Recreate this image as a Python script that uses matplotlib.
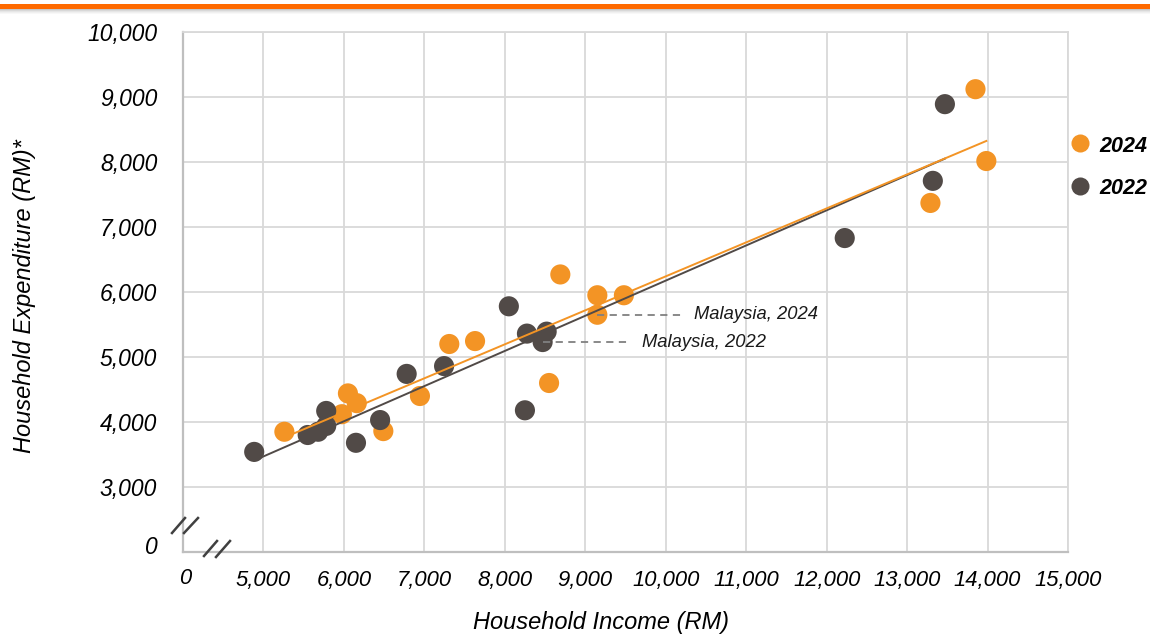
import numpy as np
import matplotlib
matplotlib.use("Agg")
import matplotlib.pyplot as plt
import matplotlib.transforms as mtransforms
from matplotlib.lines import Line2D
from matplotlib.patches import Rectangle

plt.rcParams['font.family'] = ['Liberation Sans', 'DejaVu Sans']

# 2024 series (household income, household expenditure)
inc_2024 = [5260, 5975, 6050, 6160, 6490, 6945, 7310, 7630, 8690, 8550,
            9150, 9480, 9150, 13850, 13985, 13290]
exp_2024 = [3850, 4120, 4440, 4290, 3860, 4400, 5200, 5245, 6270, 4600,
            5950, 5950, 5650, 9120, 8015, 7370]

# 2022 series
inc_2022 = [4885, 5550, 5680, 5780, 5780, 6150, 6450, 6780, 7245, 8050,
            8275, 8520, 8470, 8250, 12225, 13320, 13470]
exp_2022 = [3540, 3800, 3850, 3940, 4170, 3680, 4030, 4740, 4860, 5780,
            5360, 5390, 5230, 4180, 6830, 7710, 8890]

malaysia_2024 = (9150, 5650)
malaysia_2022 = (8470, 5230)

x_ticks = [4000, 5000, 6000, 7000, 8000, 9000, 10000, 11000, 12000, 13000, 14000, 15000]
x_labels = ['0', '5,000', '6,000', '7,000', '8,000', '9,000', '10,000', '11,000',
            '12,000', '13,000', '14,000', '15,000']
y_ticks = [2000, 3000, 4000, 5000, 6000, 7000, 8000, 9000, 10000]
y_labels = ['0', '3,000', '4,000', '5,000', '6,000', '7,000', '8,000', '9,000', '10,000']

ORANGE = '#F39425'
DARK = '#514A47'
GRID = '#D9D9D9'

fig = plt.figure(figsize=(11.5, 6.35), dpi=100)
W, H = 1150, 635
ax = fig.add_axes([183 / W, 1 - 552 / H, (1068 - 183) / W, (552 - 32) / H])

ax.set_xlim(4000, 15000)
ax.set_ylim(2000, 10000)
ax.set_xticks(x_ticks)
ax.set_xticklabels(x_labels)
ax.set_yticks(y_ticks)
ax.set_yticklabels(y_labels)
ax.tick_params(length=0)
ax.tick_params(axis='x', pad=13, labelsize=15.8)
ax.tick_params(axis='y', pad=18.5, labelsize=16.5)
for lab in ax.get_xticklabels() + ax.get_yticklabels():
    lab.set_fontstyle('italic')
# the "0" label of the broken y axis sits slightly above the axis line
ylab0 = ax.get_yticklabels()[0]
ylab0.set_transform(ylab0.get_transform() +
                    mtransforms.ScaledTranslation(0, 7 / 100, fig.dpi_scale_trans))
xlab0 = ax.get_xticklabels()[0]
xlab0.set_transform(xlab0.get_transform() +
                    mtransforms.ScaledTranslation(2 / 100, 2 / 100, fig.dpi_scale_trans))

ax.grid(True, color=GRID, linewidth=1.3)
ax.set_axisbelow(True)
for s in ['top', 'right']:
    ax.spines[s].set_color(GRID)
    ax.spines[s].set_linewidth(1.3)
for s in ['left', 'bottom']:
    ax.spines[s].set_color('#BFBFBF')
    ax.spines[s].set_linewidth(1.6)

# trend lines
for xs, ys, col in [(inc_2022, exp_2022, DARK), (inc_2024, exp_2024, ORANGE)]:
    xs = np.array(xs, float); ys = np.array(ys, float)
    m, b = np.polyfit(xs, ys, 1)
    xl = np.array([xs.min(), xs.max()])
    ax.plot(xl, m * xl + b, color=col, linewidth=1.4, zorder=4)

ax.scatter(inc_2024, exp_2024, s=210, color=ORANGE, edgecolors='none', zorder=3)
ax.scatter(inc_2022, exp_2022, s=210, color=DARK, edgecolors='none', zorder=3)

# annotations
ax.plot([malaysia_2024[0], malaysia_2024[0] + 1080], [malaysia_2024[1]] * 2,
        color='#808080', linestyle=(0, (4, 3)), linewidth=1.3, zorder=5)
ax.text(malaysia_2024[0] + 1200, malaysia_2024[1], 'Malaysia, 2024', fontsize=13.2,
        fontstyle='italic', va='center', ha='left', color='#1a1a1a')
ax.plot([malaysia_2022[0], malaysia_2022[0] + 1080], [malaysia_2022[1]] * 2,
        color='#808080', linestyle=(0, (4, 3)), linewidth=1.3, zorder=5)
ax.text(malaysia_2022[0] + 1230, malaysia_2022[1], 'Malaysia, 2022', fontsize=13.2,
        fontstyle='italic', va='center', ha='left', color='#1a1a1a')

fig.text(601 / W, 1 - 623 / H, 'Household Income (RM)', fontsize=17,
         fontstyle='italic', ha='center', va='center')
fig.text(25 / W, 1 - 296 / H, 'Household Expenditure (RM)*', fontsize=17,
         fontstyle='italic', ha='center', va='center', rotation=90)

# axis break marks (pixel positions in figure)
def fl(x0, y0, x1, y1):
    fig.add_artist(Line2D([x0 / W, x1 / W], [1 - y0 / H, 1 - y1 / H],
                          color='#404040', linewidth=1.8))
fl(172, 533, 185, 518); fl(184, 533, 198, 518)
fl(204, 556, 217, 541); fl(216, 557, 230, 541)

# legend
fig.add_artist(Line2D([1080 / W], [1 - 143 / H], marker='o', markersize=13,
                      color=ORANGE, linestyle='none', markeredgewidth=0))
fig.text(1099 / W, 1 - 146 / H, '2024', fontsize=15.5, fontweight='bold',
         fontstyle='italic', va='center', ha='left')
fig.add_artist(Line2D([1080 / W], [1 - 186 / H], marker='o', markersize=13,
                      color=DARK, linestyle='none', markeredgewidth=0))
fig.text(1099 / W, 1 - 189 / H, '2022', fontsize=15.5, fontweight='bold',
         fontstyle='italic', va='center', ha='left')

# top orange band with soft grey shadow
fig.add_artist(Rectangle((0, 1 - 9 / H), 1, 5 / H, transform=fig.transFigure,
                         color='#FF6A00', linewidth=0))
shades = ['#c8c8c8', '#d8d8d8', '#e6e6e6', '#f0f0f0', '#f8f8f8']
for i, c in enumerate(shades):
    fig.add_artist(Rectangle((0, 1 - (10 + i) / H), 1, 1 / H, transform=fig.transFigure,
                             color=c, linewidth=0))

fig.savefig('out.png', dpi=100)
